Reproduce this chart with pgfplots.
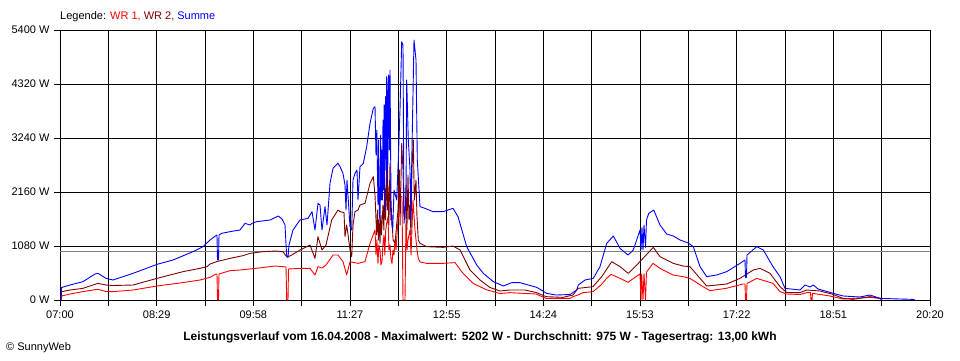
\documentclass[border=0pt]{standalone}
\usepackage{fontspec}
\setmainfont{Liberation Sans}
\usepackage{pgfplots}
\pgfplotsset{compat=1.18}
\definecolor{wrone}{RGB}{255,0,0}
\definecolor{wrtwo}{RGB}{128,0,0}
\definecolor{summe}{RGB}{0,0,255}
\definecolor{avg}{RGB}{128,128,128}
\begin{document}
\begin{tikzpicture}[x=1pt,y=1pt]
\useasboundingbox (-60,-60) rectangle (900,300);
\begin{axis}[at={(0,0)},anchor=south west,
  width=870pt,height=270pt,scale only axis,
  xmin=0,xmax=800,ymin=0,ymax=5400,
  xtick={0,88.889,177.778,266.667,355.556,444.444,533.333,622.222,711.111,800},
  xticklabels={07:00,08:29,09:58,11:27,12:55,14:24,15:53,17:22,18:51,20:20},
  minor xtick={44.444,133.333,222.222,311.111,400,488.889,577.778,666.667,755.556},
  ytick={0,1080,2160,3240,4320,5400},
  yticklabels={0 W,1080 W,2160 W,3240 W,4320 W,5400 W},
  grid=both,
  major grid style={black,line width=0.8pt},
  minor grid style={black,line width=0.8pt},
  axis line style={black,line width=0.8pt},
  tick align=outside, tick pos=left,
  major tick length=6pt, minor tick length=6pt,
  every tick/.style={black,line width=0.8pt},
  ticklabel style={font=\fontsize{11}{13}\selectfont},
  xticklabel style={yshift=-1pt},
  yticklabel style={xshift=-1pt},
  line join=round,
]
\addplot[avg,line width=0.9pt] coordinates {(0,975) (800,975)};
\addplot[wrone,line width=0.9pt] coordinates {
(0.92,0) (1.38,80) (9.20,120) (21.15,167) (32.18,207) (34.94,213) (42.30,170) (48.74,167) (67.13,200) (89.20,280) (110.34,340) (128.74,400) (137.93,453) (143.45,520) (144.37,520) (144.83,0) (145.75,0) (146.21,520) (156.32,587) (165.52,600) (180.23,633) (197.70,680) (204.94,667) (207.82,660) (208.46,0) (209.66,0) (210.11,620) (220.69,633) (229.89,633) (234.48,500) (237.24,667) (240.92,640) (244.60,700) (251.03,900) (255.63,900) (260.23,767) (263.63,500) (266.67,767) (274.02,733) (280.46,767) (285.06,1133) (289.66,1400) (290.57,900) (291.4,1200) (292.41,733) (293.2,1100) (294.25,1000) (295.1,700) (296.09,767) (296.9,1100) (297.93,1300) (298.7,900) (299.5,1400) (300.41,1533) (301.61,1667) (302.5,1000) (303.45,1100) (304.4,800) (305.29,733) (306.2,1000) (307.13,900) (308.0,1200) (308.97,1000) (310.80,1600) (312.64,2067) (314.48,2067) (315.40,0) (317.24,0) (318.16,1600) (319.1,1000) (320.00,1200) (321.84,1400) (322.8,900) (324.60,2000) (326.44,1400) (328.28,1000) (329.47,833) (331.03,760) (337.20,733) (352.18,733) (363.22,747) (370.57,533) (379.77,333) (392.64,200) (404.60,130) (413.79,147) (437.70,120) (446.90,33) (468.97,33) (471.72,67) (476.32,100) (480.92,147) (490.11,167) (497.47,300) (502.07,420) (506.67,513) (514.94,433) (522.30,353) (529.66,467) (533.33,520) (534.25,0) (534.90,520) (536.09,0) (537.01,530) (538.39,0) (539.31,560) (545.29,733) (551.72,633) (563.68,500) (572.87,467) (579.31,433) (591.26,267) (597.70,187) (612.41,233) (628.05,320) (629.89,320) (630.34,0) (631.26,0) (631.72,330) (640.64,433) (655.63,333) (662.07,167) (668.23,120) (680.46,110) (686.62,147) (690.11,147) (690.57,0) (691.49,0) (691.95,133) (708.05,80) (720.00,20) (744.83,53) (754.02,33) (755.86,0)
};
\addplot[wrtwo,line width=0.9pt] coordinates {
(0.92,0) (1.38,166) (9.20,200) (21.15,233) (34.94,333) (42.30,300) (48.74,290) (67.13,300) (89.20,433) (113.10,567) (128.74,633) (135.17,667) (137.93,720) (144.09,767) (156.32,833) (168.28,887) (174.71,933) (186.67,967) (198.62,980) (204.94,967) (208.46,867) (211.49,880) (220.69,1000) (229.89,1100) (234.48,833) (237.24,1267) (240.92,1000) (244.60,1100) (249.84,1600) (255.63,1800) (257.47,1767) (261.15,1750) (262.07,1267) (263.63,1500) (265.10,1267) (266.67,1000) (268.23,867) (269.43,1500) (271.26,1767) (274.02,1800) (275.86,1900) (280.46,1933) (285.06,2333) (288.09,2467) (289.66,2100) (290.4,1700) (291.22,1300) (292.0,1800) (292.8,1200) (293.5,1600) (294.25,1133) (295.0,1700) (295.6,1300) (297.01,1900) (297.8,1400) (298.6,2300) (299.3,1600) (300.41,2667) (301.0,1800) (301.61,2300) (302.4,1500) (303.45,2733) (304.2,1600) (305.01,1700) (306.3,1200) (308.05,1133) (310.80,1800) (312.0,2600) (312.7,1500) (314.21,3133) (315.40,2600) (316.3,1700) (317.24,1600) (318.2,2300) (319.0,1400) (320.00,2500) (320.9,1600) (321.84,1900) (322.7,1300) (323.6,2600) (324.87,3200) (325.8,2000) (327.36,2400) (328.2,1700) (329.47,1200) (331.03,1133) (337.20,1067) (352.18,1053) (361.38,1080) (367.82,1000) (377.01,600) (386.21,400) (395.40,250) (404.60,180) (413.79,200) (427.59,200) (438.34,147) (446.90,67) (462.53,53) (471.72,100) (476.32,233) (490.11,267) (498.12,467) (507.31,767) (514.94,667) (522.57,533) (530.30,700) (536.09,833) (545.56,1053) (551.72,867) (563.95,733) (572.87,680) (579.31,667) (588.51,433) (594.67,280) (613.05,320) (625.29,433) (637.52,600) (643.68,633) (652.87,533) (662.07,267) (668.23,150) (680.46,147) (686.62,200) (698.85,180) (710.80,113) (720.00,33) (729.20,13) (744.83,67) (754.02,33) (755.86,0)
};
\addplot[summe,line width=0.9pt] coordinates {
(0.92,0) (1.38,250) (9.20,300) (21.15,367) (32.18,520) (34.94,533) (42.30,433) (48.74,400) (67.13,533) (89.20,713) (103.91,800) (122.30,967) (131.49,1067) (137.93,1200) (144.09,1300) (144.37,1300) (144.83,800) (145.75,800) (146.21,1300) (148.69,1333) (156.32,1367) (165.52,1400) (170.11,1533) (174.71,1500) (176.55,1533) (180.87,1567) (193.10,1600) (200.74,1680) (204.14,1620) (206.90,1500) (208.46,867) (209.66,850) (210.57,1100) (214.25,1400) (220.69,1600) (228.05,1633) (231.72,1767) (234.48,1400) (237.24,1933) (239.08,1900) (240.92,1400) (243.68,1867) (245.52,1500) (248.28,2333) (251.03,2633) (255.63,2733) (257.47,2667) (260.23,2533) (262.07,2300) (262.99,1800) (263.91,2400) (266.67,1467) (268.23,1400) (269.43,2400) (271.26,2533) (273.10,2600) (274.02,2000) (275.86,2667) (278.90,2733) (282.02,3067) (285.06,3533) (288.09,3833) (289.66,3867) (290.57,2900) (291.3,3400) (292.41,1900) (293.0,3200) (293.6,1700) (294.25,1600) (294.9,3300) (295.4,2000) (295.82,3000) (296.4,2000) (297.01,3600) (297.6,2200) (298.0,3900) (298.39,1800) (298.9,3700) (299.49,4067) (299.9,2600) (300.41,4467) (300.9,3000) (301.33,2300) (301.8,4400) (302.25,4500) (302.8,3000) (303.45,4600) (304.37,2000) (305.2,1500) (305.93,1400) (307.13,2200) (309.61,2000) (311.08,2800) (312.64,3800) (314.21,5167) (315.40,5100) (316.32,1533) (318.16,2000) (318.80,4400) (320.28,3200) (321.84,2600) (322.48,1600) (324.32,3800) (325.52,5200) (327.36,4800) (328.55,2800) (331.03,1867) (335.63,1833) (342.99,1767) (352.18,1767) (361.38,1833) (365.98,1667) (373.98,1067) (383.17,700) (389.24,533) (398.44,367) (407.63,280) (415.36,347) (422.99,347) (438.34,253) (447.54,133) (456.09,100) (468.97,110) (475.13,200) (476.60,300) (482.76,400) (490.39,433) (496.55,667) (502.71,1133) (508.78,1280) (514.94,1033) (522.30,900) (527.17,1000) (533.33,1400) (534.25,1000) (535.17,1450) (536.09,1000) (537.01,1500) (538.39,1050) (539.31,1600) (541.38,1733) (545.98,1800) (551.72,1500) (557.89,1320) (563.95,1280) (570.11,1200) (577.74,1140) (582.34,1067) (588.51,667) (594.67,467) (603.86,500) (613.05,567) (625.29,733) (629.89,800) (630.34,450) (631.26,450) (631.72,900) (640.64,1067) (646.71,1000) (655.63,667) (662.07,467) (666.67,233) (680.46,200) (685.06,300) (689.66,260) (692.69,300) (697.01,220) (711.08,133) (720.28,80) (735.63,60) (744.83,100) (754.02,33) (772.41,20) (784.37,13) (786.21,0)
};
\end{axis}
\node[anchor=west,inner sep=0pt,font=\fontsize{11}{13}\selectfont] at (0,283)
  {Legende: \textcolor{wrone}{WR 1,} \textcolor{wrtwo}{WR 2,} \textcolor{summe}{Summe}};
\node[inner sep=0pt,font=\fontsize{12}{14}\selectfont\bfseries] at (420,-37)
  {Leistungsverlauf vom 16.04.2008 - Maximalwert: 5202 W - Durchschnitt: 975 W - Tagesertrag: 13,00 kWh};
\node[anchor=west,inner sep=0pt,font=\fontsize{11}{13}\selectfont] at (-54,-48) {© SunnyWeb};
\end{tikzpicture}
\end{document}
